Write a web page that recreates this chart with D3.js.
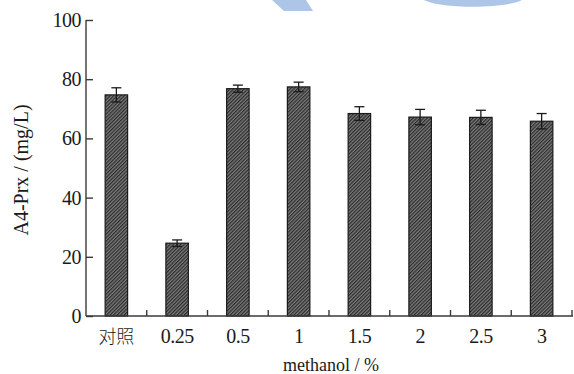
<!DOCTYPE html>
<html>
<head>
<meta charset="utf-8">
<script src="https://cdn.jsdelivr.net/npm/d3@7"></script>
<style>
  html, body { margin: 0; padding: 0; background: #fff; }
  svg { display: block; }
</style>
</head>
<body>
<svg id="chart" width="574" height="374"></svg>
<script>
// Methanol concentration groups and measured A4-Prx yield (mg/L)
const categories = ["对照", "0.25", "0.5", "1", "1.5", "2", "2.5", "3"];
const yieldMean  = [74.7, 24.6, 76.8, 77.4, 68.4, 67.2, 67.1, 65.8];
const yieldError = [2.4, 1.1, 1.2, 1.6, 2.3, 2.6, 2.4, 2.6];
const yTicks     = [0, 20, 40, 60, 80, 100];

const svg = d3.select("#chart");
const serif = "'Liberation Serif', 'DejaVu Serif', serif";

// faint header emblem
const mark = svg.append("g").attr("fill", "#a9c2e6").attr("opacity", 0.95);
mark.append("path").attr("d", "M272,0 L306,0 L313,11 L284,11 Z");
mark.append("path").attr("d", "M424,0 C440,9 505,9 522,0 Z");

const x = d3.scaleBand()
  .domain(categories)
  .range([86, 572])
  .paddingInner(0.63)
  .paddingOuter(0.315);

const y = d3.scaleLinear().domain([0, 100]).range([316, 20]);

// fine hatched fill for the bars
const defs = svg.append("defs");
const pat = defs.append("pattern")
  .attr("id", "hatch")
  .attr("patternUnits", "userSpaceOnUse")
  .attr("width", 2.5).attr("height", 2.5)
  .attr("patternTransform", "rotate(45)");
pat.append("rect").attr("width", 2.5).attr("height", 2.5).attr("fill", "#7c7c7c");
pat.append("rect").attr("width", 1.2).attr("height", 2.5).attr("fill", "#2a2a2a");

const bars = svg.append("g");
bars.selectAll("rect")
  .data(categories)
  .join("rect")
  .attr("x", d => x(d))
  .attr("width", x.bandwidth())
  .attr("y", (d, i) => y(yieldMean[i]))
  .attr("height", (d, i) => y(0) - y(yieldMean[i]))
  .attr("fill", "url(#hatch)")
  .attr("stroke", "#1a1a1a")
  .attr("stroke-width", 1.2);

// error bars
const err = svg.append("g").attr("stroke", "#1a1a1a").attr("stroke-width", 1.3);
categories.forEach((c, i) => {
  const cx = x(c) + x.bandwidth() / 2;
  const hi = y(yieldMean[i] + yieldError[i]);
  const lo = y(yieldMean[i] - yieldError[i]);
  err.append("line").attr("x1", cx).attr("x2", cx).attr("y1", hi).attr("y2", lo);
  err.append("line").attr("x1", cx - 5).attr("x2", cx + 5).attr("y1", hi).attr("y2", hi);
  err.append("line").attr("x1", cx - 5).attr("x2", cx + 5).attr("y1", lo).attr("y2", lo);
});

// y axis: ticks pointing into the plot
const yAxis = svg.append("g")
  .attr("transform", "translate(86,0)")
  .call(d3.axisRight(y).tickValues(yTicks).tickSize(7).tickFormat(""));
yAxis.select(".domain").attr("d", `M0,${y(100)}V${y(0)}`);
yAxis.selectAll("path, line").attr("stroke", "#3a3a3a").attr("stroke-width", 1.4);

svg.append("g").selectAll("text")
  .data(yTicks)
  .join("text")
  .attr("x", 81)
  .attr("y", d => y(d) + 7)
  .attr("text-anchor", "end")
  .attr("font-family", serif)
  .attr("font-size", 20)
  .attr("letter-spacing", -0.5)
  .attr("fill", "#1a1a1a")
  .text(d => d);

// x axis with ticks at the band boundaries
const step = x.step();
const boundaries = d3.range(1, categories.length + 1).map(k => 86 + k * step);
const xAxis = svg.append("g");
xAxis.append("line")
  .attr("x1", 86).attr("x2", 573).attr("y1", y(0)).attr("y2", y(0))
  .attr("stroke", "#3a3a3a").attr("stroke-width", 1.4);
xAxis.selectAll("line.tick")
  .data(boundaries)
  .join("line")
  .attr("class", "tick")
  .attr("x1", d => d).attr("x2", d => d)
  .attr("y1", y(0)).attr("y2", y(0) - 6)
  .attr("stroke", "#3a3a3a").attr("stroke-width", 1.4);

svg.append("g").selectAll("text")
  .data(categories)
  .join("text")
  .attr("x", d => x(d) + x.bandwidth() / 2)
  .attr("y", 343)
  .attr("text-anchor", "middle")
  .attr("font-family", (d, i) => i === 0 ? "'Noto Sans CJK SC', sans-serif" : serif)
  .attr("font-size", (d, i) => i === 0 ? 18 : 20)
  .attr("font-weight", (d, i) => i === 0 ? 300 : 400)
  .attr("letter-spacing", (d, i) => i === 0 ? 0 : -0.5)
  .attr("fill", "#1a1a1a")
  .text(d => d);

// axis titles
svg.append("text")
  .attr("transform", "translate(28,170) rotate(-90)")
  .attr("text-anchor", "middle")
  .attr("font-family", serif)
  .attr("font-size", 20)
  .attr("fill", "#1a1a1a")
  .text("A4-Prx / (mg/L)");

svg.append("text")
  .attr("x", 331)
  .attr("y", 371)
  .attr("text-anchor", "middle")
  .attr("font-family", serif)
  .attr("font-size", 18)
  .attr("fill", "#1a1a1a")
  .text("methanol / %");
</script>
</body>
</html>
